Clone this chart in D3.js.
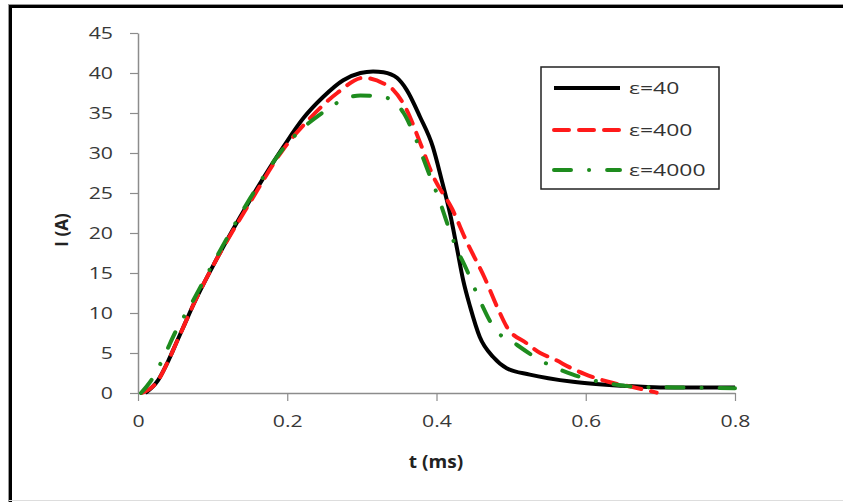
<!DOCTYPE html>
<html><head><meta charset="utf-8">
<script src="https://cdn.jsdelivr.net/npm/d3@7"></script>
<style>
html,body{margin:0;padding:0;background:#fff;}
svg{display:block;}
text{font-family:"Open Sans","Liberation Sans",Arial,sans-serif;}
</style></head>
<body>
<svg id="chart" width="843" height="502"></svg>
<script>
// ---- data (t in ms, I in A) ----
const xTicks = [0, 0.2, 0.4, 0.6, 0.8];
const yTicks = [0, 5, 10, 15, 20, 25, 30, 35, 40, 45];
const seriesNames = ["ε=40", "ε=400", "ε=4000"];

const tEps40 = [0.01,0.027,0.04,0.052,0.063,0.074,0.1,0.15,0.195,0.222,0.248,0.275,0.298,0.315,0.329,0.347,0.36,0.378,0.395,0.407,0.418,0.427,0.436,0.445,0.458,0.476,0.494,0.525,0.583,0.65,0.7,0.8];
const iEps40 = [0,1.6,3.9,6.4,8.7,11,15.8,24.1,30.8,34.4,37,39.1,40,40.2,40.1,39.4,37.9,34.5,30.8,26.6,22.5,18.3,14,10.8,7,4.5,3.1,2.3,1.4,0.9,0.7,0.7];

const tEps400 = [0.005,0.027,0.04,0.052,0.063,0.074,0.1,0.15,0.195,0.231,0.267,0.302,0.329,0.342,0.36,0.378,0.395,0.421,0.44,0.464,0.483,0.494,0.521,0.539,0.556,0.583,0.598,0.63,0.66,0.695];
const iEps400 = [0,1.6,3.9,6.4,8.7,11,15.8,23.8,30.5,34.4,37.5,39.4,38.7,37.9,35.4,31.3,27.2,23,19,14.5,10.4,8.3,6.2,5,4.3,3.0,2.4,1.4,0.8,0.05];

const tEps4000 = [0.004,0.02,0.035,0.05,0.07,0.1,0.15,0.195,0.248,0.284,0.298,0.329,0.356,0.369,0.388,0.405,0.414,0.425,0.44,0.458,0.476,0.508,0.543,0.583,0.63,0.675,0.72,0.8];
const iEps4000 = [0,1.9,4.6,7.6,10.9,16.1,24.3,30.6,35.1,37,37.2,37,35,32.5,27.9,23.8,21.3,18.5,15.5,11.6,8.3,6,3.9,2.3,1.2,0.75,0.7,0.6];

const series = [
  {name: seriesNames[0], t: tEps40, i: iEps40, color: "#000000", dash: null, cap: "butt"},
  {name: seriesNames[1], t: tEps400, i: iEps400, color: "#ff1a1a", dash: "15,10", cap: "round"},
  {name: seriesNames[2], t: tEps4000, i: iEps4000, color: "#1e8c1e", dash: "17,18,0.1,18", cap: "round"}
];

const svg = d3.select("#chart");

// horizontal stretch of text to mimic the wide source rendering
function stretch(sel, f) {
  sel.each(function() {
    const w = this.getComputedTextLength();
    d3.select(this).attr("textLength", w * f).attr("lengthAdjust", "spacingAndGlyphs");
  });
}

// outer frame
svg.append("line").attr("x1",8).attr("x2",843).attr("y1",4.5).attr("y2",4.5).attr("stroke","#999").attr("stroke-width",1);
svg.append("line").attr("x1",10).attr("x2",843).attr("y1",6.5).attr("y2",6.5).attr("stroke","#000").attr("stroke-width",3);
svg.append("line").attr("x1",8.5).attr("x2",8.5).attr("y1",4).attr("y2",502).attr("stroke","#999").attr("stroke-width",1);
svg.append("line").attr("x1",10.5).attr("x2",10.5).attr("y1",5).attr("y2",502).attr("stroke","#000").attr("stroke-width",3);
svg.append("line").attr("x1",9).attr("x2",843).attr("y1",500.5).attr("y2",500.5).attr("stroke","#ddd").attr("stroke-width",1);

const x = d3.scaleLinear().domain([0,0.8]).range([138,735]);
const y = d3.scaleLinear().domain([0,45]).range([393,33]);

const axisColor = "#8c8c8c";
const labelColor = "#383838";

const xAxis = svg.append("g").attr("transform","translate(0,393)")
  .call(d3.axisBottom(x).tickValues(xTicks).tickSize(8).tickSizeOuter(0).tickPadding(14).tickFormat(d => d === 0 ? "0" : d3.format(".1f")(d)));
const yAxis = svg.append("g").attr("transform","translate(138,0)")
  .call(d3.axisLeft(y).tickValues(yTicks).tickSize(8).tickSizeOuter(0).tickPadding(17));
[xAxis,yAxis].forEach(g => {
  g.select(".domain").attr("stroke",axisColor).attr("stroke-width",1.5);
  g.selectAll(".tick line").attr("stroke",axisColor).attr("stroke-width",1.2);
  g.selectAll(".tick text").attr("fill",labelColor).style("font-size","17px");
  stretch(g.selectAll(".tick text"), 1.25);
});

// axis titles
const xt = svg.append("text").attr("x",436).attr("y",468).attr("text-anchor","middle")
  .style("font-size","17px").style("font-weight","bold").attr("fill","#222").text("t (ms)");
stretch(xt, 1.12);
const yt = svg.append("text").attr("transform","translate(68,230) rotate(-90)").attr("text-anchor","middle")
  .style("font-size","17px").style("font-weight","bold").attr("fill","#222").text("I (A)");

// curves
const line = d3.line().x(d => x(d[0])).y(d => y(d[1])).curve(d3.curveMonotoneX);
series.forEach(s => {
  const pts = s.t.map((t,k) => [t, s.i[k]]);
  const p = svg.append("path").datum(pts).attr("d", line)
    .attr("fill","none").attr("stroke", s.color).attr("stroke-width",4)
    .attr("stroke-linecap", s.cap).attr("stroke-linejoin","round");
  if (s.dash) p.attr("stroke-dasharray", s.dash);
});

// legend
const lg = svg.append("g");
lg.append("rect").attr("x",541).attr("y",67).attr("width",178).attr("height",122)
  .attr("fill","#fff").attr("stroke","#222").attr("stroke-width",1.5);
const rowsY = [88,130,170];
series.forEach((s,k) => {
  const l = lg.append("line").attr("x1",554).attr("x2",620).attr("y1",rowsY[k]).attr("y2",rowsY[k])
    .attr("stroke",s.color).attr("stroke-width",4).attr("stroke-linecap",s.cap);
  if (s.dash) l.attr("stroke-dasharray", s.dash);
  const t = lg.append("text").attr("x",629).attr("y",rowsY[k]).attr("dy","0.35em")
    .style("font-size","17px").attr("fill","#333").text(s.name);
  stretch(t, 1.35);
});
</script>
</body></html>
